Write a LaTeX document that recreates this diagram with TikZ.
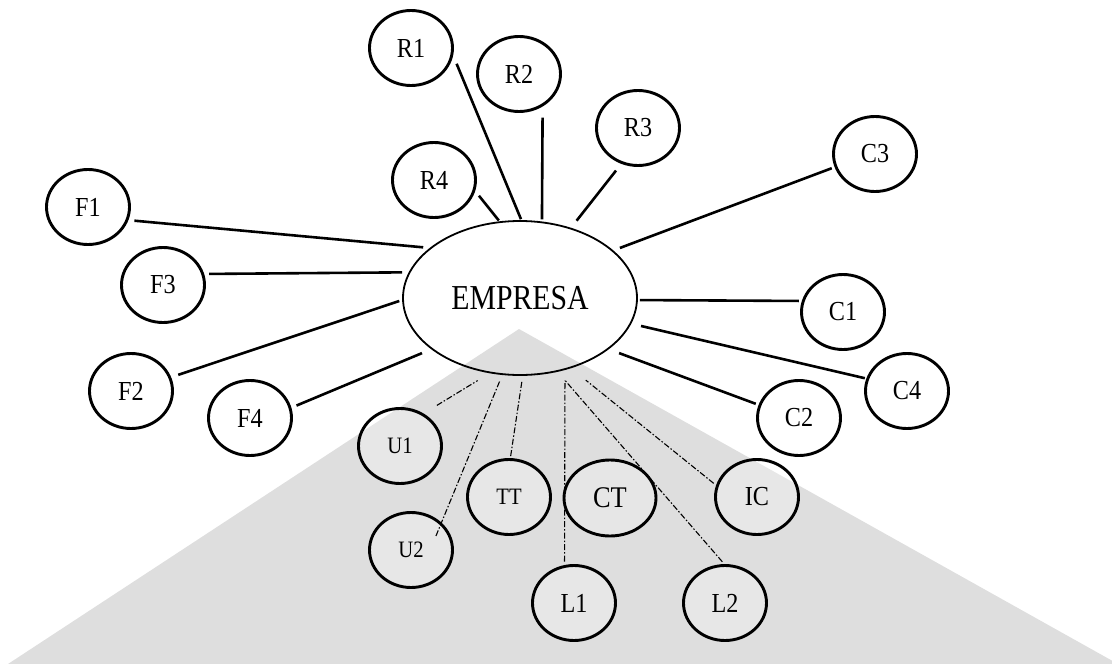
\documentclass[tikz,border=0pt]{standalone}
\usepackage{fontspec}
\setmainfont{Liberation Serif}[FakeStretch=0.88]
\newfontfamily\empfont{Liberation Serif}[FakeStretch=0.85]
\usetikzlibrary{shapes.geometric}
\pgfdeclarelayer{bg}
\pgfdeclarelayer{fg}
\pgfsetlayers{bg,main,fg}
\definecolor{tri}{HTML}{DEDEDE}
\definecolor{cfill}{HTML}{E6E6E6}
\tikzset{
  circ/.style={ellipse, draw, line width=2.9pt, inner sep=0pt,
    minimum width=83pt, minimum height=75pt,
    font=\fontsize{27.5}{30}\selectfont},
  lowc/.style={circ, fill=white, fill opacity=0.3, text opacity=1},
  smallc/.style={lowc, font=\fontsize{23.5}{26}\selectfont},
  bigc/.style={circ, fill=cfill, minimum width=92pt, minimum height=76pt,
    font=\fontsize{30}{33}\selectfont},
  empresa/.style={ellipse, draw, line width=1.8pt, inner sep=0pt,
    minimum width=234pt, minimum height=154pt,
    font=\empfont\fontsize{35}{40}\selectfont},
  conn/.style={line width=2.6pt},
  dconn/.style={line width=1.1pt, dash pattern=on 6pt off 2pt on 1.5pt off 2pt}
}
\begin{document}
\begin{tikzpicture}[x=1pt,y=-1pt]
\useasboundingbox (0,0) rectangle (1112,664);
\begin{pgfonlayer}{bg}
  \fill[tri] (519,329) -- (8,664) -- (1118,664) -- cycle;
\end{pgfonlayer}
\begin{pgfonlayer}{fg}
  \node[empresa] (E) at (520,298) {EMPRESA};
  \node[circ] (R1) at (411,48) {R1};
  \node[circ] (R2) at (519,74) {R2};
  \node[circ] (R3) at (638,128) {R3};
  \node[circ] (R4) at (434,180) {R4};
  \node[circ] (C3) at (875,154) {C3};
  \node[circ] (C1) at (843,312) {C1};
  \node[circ] (C4) at (907,391) {C4};
  \node[circ] (C2) at (799,418) {C2};
  \node[circ] (F1) at (88,207) {F1};
  \node[circ] (F3) at (163,285) {F3};
  \node[circ] (F2) at (131,391) {F2};
  \node[circ] (F4) at (250,418) {F4};
  \node[smallc] (U1) at (400,446) {U1};
  \node[smallc] (U2) at (411,550) {U2};
  \node[smallc] (TT) at (509,497) {TT};
  \node[bigc] (CT) at (610,498) {CT};
  \node[lowc] (IC) at (757,497) {IC};
  \node[lowc] (L1) at (574,603) {L1};
  \node[lowc] (L2) at (725,603) {L2};
  \draw[dconn, shorten <=-14.5pt, shorten >=6pt] (U2.42.7) -- (E.-103.1);
\end{pgfonlayer}
% solid connectors
\draw[conn, shorten <=9pt, shorten >=1pt] (R1.-10.7) -- (E.89.3);
\draw[conn, shorten <=11pt, shorten >=2pt] (R2.-54.7) -- (E.74);
\draw[conn, shorten <=8.5pt, shorten >=9pt] (R3.245.1) -- (E.54.8);
\draw[conn, shorten <=6pt, shorten >=1pt] (R4.-15.4) -- (E.105.2);
\draw[conn, shorten <=3pt, shorten >=7pt] (C3.198.4) -- (E.27.9);
\draw[conn, shorten <=3pt, shorten >=2pt] (C1.165.1) -- (E.-1.5);
\draw[conn, shorten <=1.5pt, shorten >=10pt] (C4.163.7) -- (E.-13.7);
\draw[conn, shorten <=3pt, shorten >=11pt] (C2.162.9) -- (E.-30.2);
\draw[conn, shorten <=6pt, shorten >=6.5pt] (F1.-18.6) -- (E.151.5);
\draw[conn, shorten <=5pt, shorten >=6.5pt] (F3.15) -- (E.167.9);
\draw[conn, shorten <=7.5pt, shorten >=3pt] (F2.19.1) -- (E.181.1);
\draw[conn, shorten <=5.5pt, shorten >=10pt] (F4.14.3) -- (E.210.2);
% dash-dot connectors
\draw[dconn, shorten <=15.5pt, shorten >=14pt] (U1.54.9) -- (E.-112.3);
\draw[dconn, shorten <=2pt, shorten >=5pt] (TT.88.6) -- (E.-88.1);
\draw[dconn, shorten <=3.5pt, shorten >=10.5pt] (L1.104.8) -- (E.-58.7);
\draw[dconn, shorten <=3pt, shorten >=11.5pt] (L2.91.6) -- (E.-63.4);
\draw[dconn, shorten <=3pt, shorten >=19pt] (IC.164.9) -- (E.-54.3);
\end{tikzpicture}
\end{document}
